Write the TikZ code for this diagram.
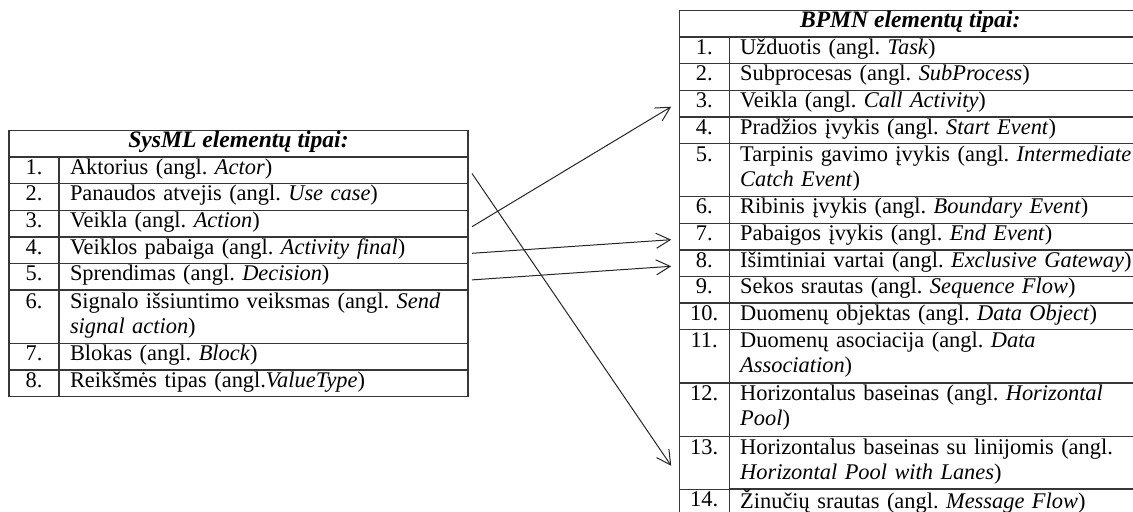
\documentclass[tikz,border=0pt]{standalone}
\usepackage{fontspec}
\setmainfont{Liberation Serif}
\usetikzlibrary{arrows.meta,positioning}
\definecolor{gridgray}{RGB}{55,55,55}
\newcommand{\rowstrut}{\rule[-4.3pt]{0pt}{12.5pt}}
\frenchspacing

\begin{document}
\begin{tikzpicture}[
    font=\fontsize{11.2}{12.5}\selectfont,
    cell/.style={rectangle, draw=gridgray, line width=0.7pt, outer sep=0pt, inner ysep=0pt,
                 execute at begin node=\rowstrut, execute at end node=\rowstrut},
    hdr/.style={cell, minimum height=13.3pt, anchor=north west,
                font=\fontsize{11.8}{12.5}\selectfont\bfseries\itshape},
    numcell/.style={cell, text width=25pt, inner xsep=0pt, align=center, anchor=north west},
    txtcell/.style={cell, inner xsep=5.5pt, align=left, anchor=west},
    arrow/.style={-{Straight Barb[length=7pt,width=7.5pt]}, line width=0.5pt, black!85}
]
\useasboundingbox (0,0) rectangle (566.5pt,-256pt);

% table headers
\node[hdr, minimum width=229.5pt, alias=sn0] (s0) at (4.5pt,-65.3pt) {SysML elementų tipai:};
\node[hdr, minimum width=231pt, alias=bn0] (b0) at (339.6pt,-5.3pt) {BPMN elementų tipai:};

% SysML rows: number / lines / text
\foreach \n/\k/\txt [remember=\n as \p (initially 0)] in {
    1/1/{Aktorius (angl. \textit{Actor})},
    2/1/{Panaudos atvejis (angl. \textit{Use case})},
    3/1/{Veikla (angl. \textit{Action})},
    4/1/{Veiklos pabaiga (angl. \textit{Activity final})},
    5/1/{Sprendimas (angl. \textit{Decision})},
    6/2/{Signalo išsiuntimo veiksmas (angl. \textit{Send}\\\textit{signal action})},
    7/1/{Blokas (angl. \textit{Block})},
    8/1/{Reikšmės tipas (angl.\textit{ValueType})}}{
  \node[numcell, minimum height=\k*13.3pt] (sn\n) at (sn\p.south west) {\n.\ifnum\k>1\\\fi};
  \node[txtcell, text width=193.5pt, minimum height=\k*13.3pt] (s\n) at (sn\n.east) {\txt};
}

% BPMN rows
\foreach \n/\k/\txt [remember=\n as \p (initially 0)] in {
    1/1/{Užduotis (angl. \textit{Task})},
    2/1/{Subprocesas (angl. \textit{SubProcess})},
    3/1/{Veikla (angl. \textit{Call Activity})},
    4/1/{Pradžios įvykis (angl. \textit{Start Event})},
    5/2/{Tarpinis gavimo įvykis (angl. \textit{Intermediate}\\\textit{Catch Event})},
    6/1/{Ribinis įvykis (angl. \textit{Boundary Event})},
    7/1/{Pabaigos įvykis (angl. \textit{End Event})},
    8/1/{Išimtiniai vartai (angl. \textit{Exclusive Gateway})},
    9/1/{Sekos srautas (angl. \textit{Sequence Flow})},
    10/1/{Duomenų objektas (angl. \textit{Data Object})},
    11/2/{Duomenų asociacija (angl. \textit{Data}\\\textit{Association})},
    12/2/{Horizontalus baseinas (angl. \textit{Horizontal}\\\textit{Pool})},
    13/2/{Horizontalus baseinas su linijomis (angl.\\\textit{Horizontal Pool with Lanes})},
    14/1/{Žinučių srautas (angl. \textit{Message Flow})}}{
  \node[numcell, minimum height=\k*13.3pt] (bn\n) at (bn\p.south west) {\n.\ifnum\k>1\\\fi};
  \node[txtcell, text width=201pt, minimum height=\k*13.3pt] (b\n) at (bn\n.east) {\txt};
}

% mapping arrows
\foreach \a/\b in {3/3, 4/7, 5/8, 1/13}
  \draw[arrow] ([xshift=2pt,yshift=-1.5pt]s\a.east) -- ([xshift=-4pt,yshift=-1.5pt]bn\b.west);
\end{tikzpicture}
\end{document}
